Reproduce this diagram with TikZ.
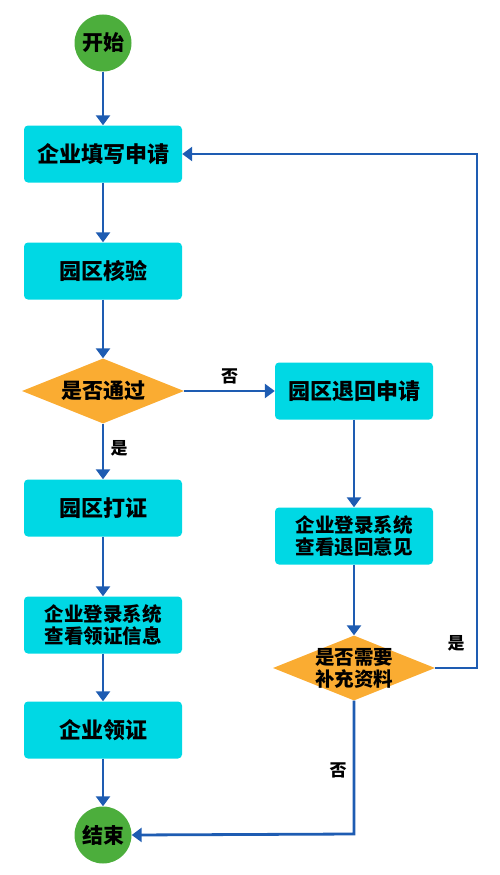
\documentclass[tikz,border=0pt]{standalone}
\usepackage{fontspec}
\setmainfont{Noto Sans CJK SC}
\usetikzlibrary{arrows.meta,shapes.geometric}
\definecolor{boxc}{RGB}{0,216,228}
\definecolor{greenc}{RGB}{76,174,60}
\definecolor{orangec}{RGB}{250,172,50}
\definecolor{linec}{RGB}{30,92,178}
\begin{document}
\begin{tikzpicture}[x=1pt,y=-1pt,
  box/.style={fill=boxc,draw=none,rounded corners=4pt,minimum width=158pt,minimum height=57pt,inner sep=0pt,align=center,font=\fontsize{19.5}{22.5}\selectfont\bfseries},
  bigtxt/.style={font=\fontsize{22}{25}\selectfont\bfseries},
  term/.style={circle,fill=greenc,draw=none,minimum size=57pt,inner sep=0pt,font=\fontsize{21}{24}\selectfont\bfseries},
  dia/.style={diamond,fill=orangec,draw=none,inner sep=-12pt,minimum width=162pt,minimum height=65pt,aspect=2.5,align=center,font=\fontsize{19.5}{22}\selectfont\bfseries},
  conn/.style={draw=linec,line width=2.8pt,-{Triangle[width=14pt,length=10pt]}},
  lab/.style={font=\fontsize{17}{20}\selectfont\bfseries}]
\useasboundingbox (0,0) rectangle (500,875);
\node[term] (start) at (103,43) {开始};
\node[box,bigtxt] (b1) at (103,154) {企业填写申请};
\node[box,bigtxt] (b2) at (103,271) {园区核验};
\node[dia] (d1) at (103,391) {\fontsize{21}{24}\selectfont 是否通过};
\node[box,bigtxt] (r1) at (354,391) {园区退回申请};
\node[box,bigtxt] (b3) at (103,508) {园区打证};
\node[box] (r2) at (354,536) {企业登录系统\\查看退回意见};
\node[box] (b4) at (103,625) {企业登录系统\\查看领证信息};
\node[dia] (d2) at (354,668) {是否需要\\补充资料};
\node[box,bigtxt] (b5) at (103,730) {企业领证};
\node[term] (end) at (103,835) {结束};
\coordinate (c1) at (477,668);
\coordinate (c2) at (477,154);
\coordinate (c3) at (354,834);
\draw[conn] (start) -- (b1);
\draw[conn] (b1) -- (b2);
\draw[conn] (b2) -- (d1);
\draw[conn] (d1) -- node[lab,right,xshift=3pt,pos=0.45] (ly) {是} (b3);
\draw[conn] (d1) -- node[lab,above,yshift=2pt] (ln) {否} (r1);
\draw[conn] (r1) -- (r2);
\draw[conn] (r2) -- (d2);
\draw[conn] (b3) -- (b4);
\draw[conn] (b4) -- (b5);
\draw[conn] (b5) -- (end);
\draw[conn] (d2.east) -- (c1) -- (c2) -- (b1.east);
\node[lab] (ly2) at (456,643) {是};
\draw[conn] (d2.south) -- (c3) -- (end.east);
\node[lab] (ln2) at (338,770) {否};
\end{tikzpicture}
\end{document}
